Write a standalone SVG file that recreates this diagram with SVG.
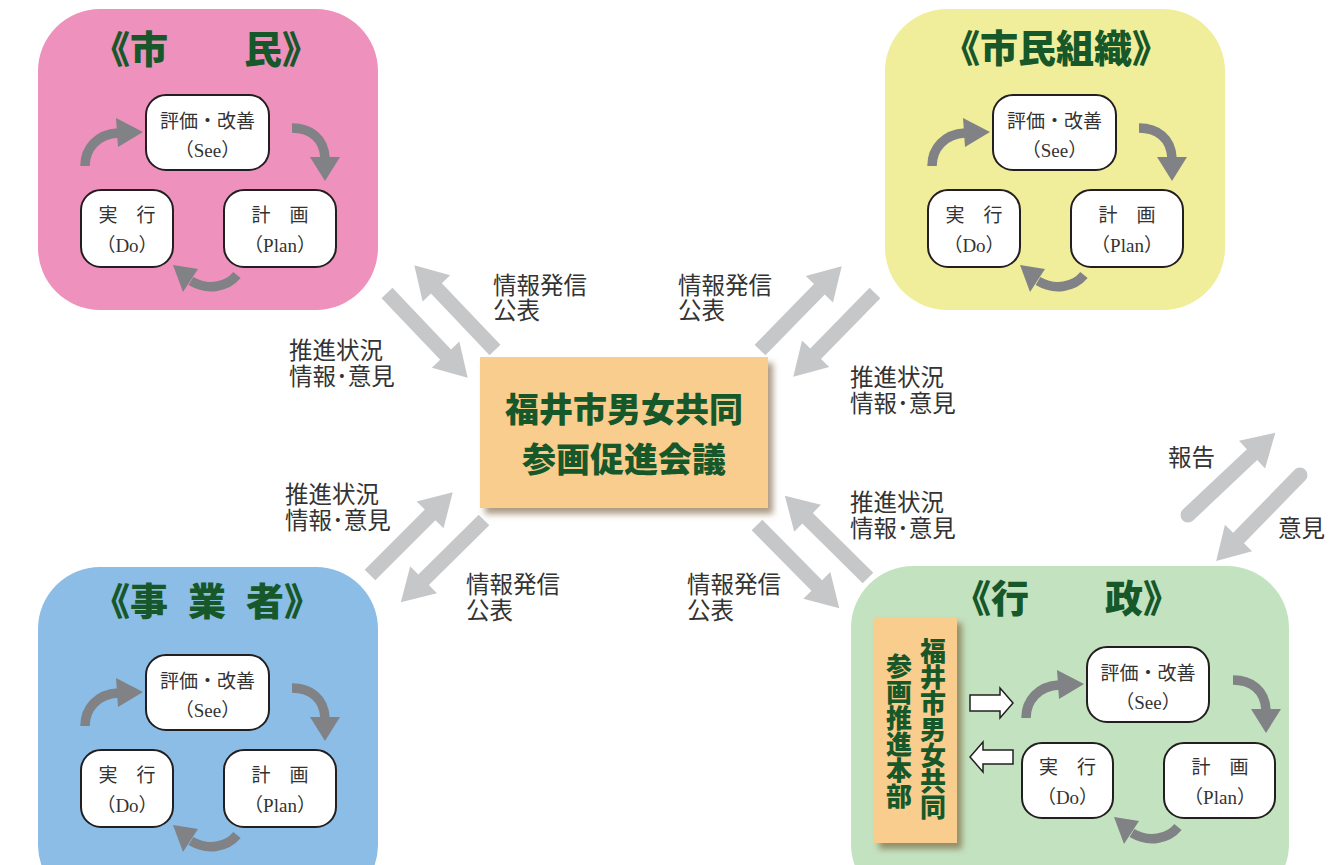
<svg xmlns="http://www.w3.org/2000/svg" xmlns:xlink="http://www.w3.org/1999/xlink" width="1330" height="865" viewBox="0 0 1330 865">
<defs>
<style>
.title{font-family:"Noto Sans CJK JP","Noto Sans",sans-serif;font-weight:900;font-size:38px;fill:#17582A}
.ctr{font-family:"Noto Sans CJK JP","Noto Sans",sans-serif;font-weight:900;font-size:34px;fill:#17582A;text-anchor:middle}
.vt{font-family:"Noto Sans CJK JP","Noto Sans",sans-serif;font-weight:900;font-size:26px;fill:#17582A;writing-mode:vertical-rl;text-orientation:upright}
.nd{fill:#fff;stroke:#231F20;stroke-width:2}
.nt{font-family:"Liberation Serif","Noto Sans CJK JP",serif;font-size:19px;fill:#333;text-anchor:middle}
.lb{font-family:"Liberation Serif","Noto Sans CJK JP",serif;font-size:23.5px;fill:#333}
.cb{fill:none;stroke:#808285;stroke-width:9.5}
.ch{fill:#808285}
.ga{fill:#C6C7C9}
.wa{fill:#fff;stroke:#231F20;stroke-width:1.5}
</style>
<filter id="sh" x="-10%" y="-10%" width="130%" height="130%">
<feDropShadow dx="5" dy="6" stdDeviation="3" flood-color="#6b4a22" flood-opacity="0.55"/>
</filter>
<path id="arr" d="M0,-7.5 L85,-7.5 L85,-19 L117,0 L85,19 L85,7.5 L0,7.5 Z"/>
<path id="arrR" d="M0,-7.5 L88,-7.5 L88,-19 L120,0 L88,19 L88,7.5 L0,7.5 A7.5,7.5 0 0 1 0,-7.5 Z"/>
</defs>

<g id="shimin">
<rect x="38" y="9" width="340" height="301" rx="62" fill="#EE91BD"/>
<text class="title" x="92" y="63">《市　　民》</text>
<g id="shimin-cycle">
<rect class="nd" x="146" y="95" width="123" height="75" rx="20"/>
<text class="nt" x="207.5" y="128">評価・改善</text>
<text class="nt" x="207.5" y="157">（See）</text>
<rect class="nd" x="81" y="190" width="92" height="77" rx="20"/>
<text class="nt" x="127" y="222">実　行</text>
<text class="nt" x="127" y="252">（Do）</text>
<rect class="nd" x="224" y="190" width="112" height="77" rx="20"/>
<text class="nt" x="280" y="222">計　画</text>
<text class="nt" x="280" y="252">（Plan）</text>
<path class="cb" d="M85,166 C85,148 98,134 118,133"/>
<polygon class="ch" points="116,118 118,147 143,132"/>
<path class="cb" d="M292,128 C310,128 324,138 325,158"/>
<polygon class="ch" points="310,157 340,157 325,181"/>
<path class="cb" d="M237,275 C227,287 208,291 191,281"/>
<polygon class="ch" points="173,265 198,269 183,292"/>
</g>
</g>

<g id="shimin-soshiki">
<rect x="885" y="9" width="340" height="301" rx="62" fill="#F1EE9B"/>
<text class="title" x="942" y="62">《市民組織》</text>
<g transform="translate(847,0)">
<rect class="nd" x="146" y="95" width="123" height="75" rx="20"/>
<text class="nt" x="207.5" y="128">評価・改善</text>
<text class="nt" x="207.5" y="157">（See）</text>
<rect class="nd" x="81" y="190" width="92" height="77" rx="20"/>
<text class="nt" x="127" y="222">実　行</text>
<text class="nt" x="127" y="252">（Do）</text>
<rect class="nd" x="224" y="190" width="112" height="77" rx="20"/>
<text class="nt" x="280" y="222">計　画</text>
<text class="nt" x="280" y="252">（Plan）</text>
<path class="cb" d="M85,166 C85,148 98,134 118,133"/>
<polygon class="ch" points="116,118 118,147 143,132"/>
<path class="cb" d="M292,128 C310,128 324,138 325,158"/>
<polygon class="ch" points="310,157 340,157 325,181"/>
<path class="cb" d="M237,275 C227,287 208,291 191,281"/>
<polygon class="ch" points="173,265 198,269 183,292"/>
</g>
</g>

<g id="jigyosha">
<rect x="38" y="567" width="340" height="340" rx="62" fill="#8BBDE6"/>
<text class="title" x="92 130 188 246 284" y="615">《事業者》</text>
<g transform="translate(0,560)">
<rect class="nd" x="146" y="95" width="123" height="75" rx="20"/>
<text class="nt" x="207.5" y="128">評価・改善</text>
<text class="nt" x="207.5" y="157">（See）</text>
<rect class="nd" x="81" y="190" width="92" height="77" rx="20"/>
<text class="nt" x="127" y="222">実　行</text>
<text class="nt" x="127" y="252">（Do）</text>
<rect class="nd" x="224" y="190" width="112" height="77" rx="20"/>
<text class="nt" x="280" y="222">計　画</text>
<text class="nt" x="280" y="252">（Plan）</text>
<path class="cb" d="M85,166 C85,148 98,134 118,133"/>
<polygon class="ch" points="116,118 118,147 143,132"/>
<path class="cb" d="M292,128 C310,128 324,138 325,158"/>
<polygon class="ch" points="310,157 340,157 325,181"/>
<path class="cb" d="M237,275 C227,287 208,291 191,281"/>
<polygon class="ch" points="173,265 198,269 183,292"/>
</g>
</g>

<g id="gyosei">
<rect x="851" y="566" width="438" height="340" rx="62" fill="#C3E2C0"/>
<text class="title" x="953" y="612">《行　　政》</text>
<g id="honbu">
<rect x="874" y="617" width="83" height="226" fill="#F9CD8D" filter="url(#sh)"/>
<text class="vt" x="933" y="638">福井市男女共同</text>
<text class="vt" x="899" y="653">参画推進本部</text>
</g>
<polygon class="wa" points="970,695 1000,695 1000,688 1013,703 1000,718 1000,711 970,711"/>
<polygon class="wa" points="1013,750 983,750 983,742 970,757 983,772 983,764 1013,764"/>
<g transform="translate(941,552)">
<rect class="nd" x="146" y="95" width="122" height="75" rx="20"/>
<text class="nt" x="207" y="128">評価・改善</text>
<text class="nt" x="207" y="157">（See）</text>
<rect class="nd" x="81" y="191" width="91" height="75" rx="20"/>
<text class="nt" x="126.5" y="222">実　行</text>
<text class="nt" x="126.5" y="252">（Do）</text>
<rect class="nd" x="223" y="191" width="111" height="75" rx="20"/>
<text class="nt" x="279" y="222">計　画</text>
<text class="nt" x="279" y="252">（Plan）</text>
<path class="cb" d="M85,166 C85,148 98,134 118,133"/>
<polygon class="ch" points="116,118 118,147 143,132"/>
<path class="cb" d="M292,128 C310,128 324,138 325,158"/>
<polygon class="ch" points="310,157 340,157 325,181"/>
<path class="cb" d="M237,275 C227,287 208,291 191,281"/>
<polygon class="ch" points="173,265 198,269 183,292"/>
</g>
</g>

<g id="kaigi">
<rect x="480" y="357" width="288" height="151" fill="#F9CD8D" filter="url(#sh)"/>
<text class="ctr" x="624" y="422">福井市男女共同</text>
<text class="ctr" x="624" y="472">参画促進会議</text>
</g>

<g id="connectors">
<use xlink:href="#arr" href="#arr" class="ga" transform="translate(387,293) rotate(46.4)"/>
<use xlink:href="#arr" href="#arr" class="ga" transform="translate(495,350) rotate(-133.6)"/>
<use xlink:href="#arr" href="#arr" class="ga" transform="translate(760,350) rotate(-45.7)"/>
<use xlink:href="#arr" href="#arr" class="ga" transform="translate(875,293) rotate(134.3)"/>
<use xlink:href="#arr" href="#arr" class="ga" transform="translate(370,575) rotate(-45)"/>
<use xlink:href="#arr" href="#arr" class="ga" transform="translate(484,520) rotate(135.3)"/>
<use xlink:href="#arr" href="#arr" class="ga" transform="translate(757,525) rotate(45.3)"/>
<use xlink:href="#arr" href="#arr" class="ga" transform="translate(868,578) rotate(-135.3)"/>
<use xlink:href="#arrR" href="#arrR" class="ga" transform="translate(1188,515) rotate(-43.3)"/>
<use xlink:href="#arrR" href="#arrR" class="ga" transform="translate(1300,475) rotate(134.3)"/>
</g>

<g id="labels">
<text class="lb" x="493" y="294">情報発信</text>
<text class="lb" x="493" y="319">公表</text>
<text class="lb" x="289" y="359">推進状況</text>
<text class="lb" x="289" y="385">情報･意見</text>
<text class="lb" x="678" y="294">情報発信</text>
<text class="lb" x="678" y="319">公表</text>
<text class="lb" x="850" y="386">推進状況</text>
<text class="lb" x="850" y="412">情報･意見</text>
<text class="lb" x="285" y="503">推進状況</text>
<text class="lb" x="285" y="529">情報･意見</text>
<text class="lb" x="466" y="593">情報発信</text>
<text class="lb" x="466" y="619">公表</text>
<text class="lb" x="850" y="511">推進状況</text>
<text class="lb" x="850" y="537">情報･意見</text>
<text class="lb" x="687" y="593">情報発信</text>
<text class="lb" x="687" y="619">公表</text>
<text class="lb" x="1168" y="466">報告</text>
<text class="lb" x="1278" y="537">意見</text>
</g>
</svg>
